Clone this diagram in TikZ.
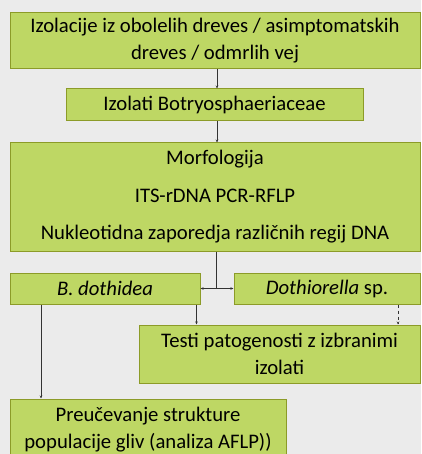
\documentclass[tikz,border=0pt]{standalone}
\usepackage{fontspec}
\setmainfont{Carlito}
\definecolor{boxfill}{RGB}{190,215,100}
\definecolor{boxline}{RGB}{140,155,40}
\definecolor{bg}{RGB}{235,235,235}
\tikzset{
  box/.style={draw=boxline, fill=boxfill, line width=1pt, align=center, inner sep=0pt,
    font=\fontsize{20.7}{27}\selectfont},
  arr/.style={-{Stealth[length=3pt,width=2.5pt]}, line width=0.6pt, draw=black!80},
}
\usetikzlibrary{arrows.meta}
\begin{document}
\begin{tikzpicture}[x=1pt,y=-1pt]
      \fill[bg] (0,0) rectangle (421,454);
      \useasboundingbox (0,0) rectangle (421,454);
      \node[box, minimum width=410pt, minimum height=56pt] (iso) at (215,41) {Izolacije iz obolelih dreves / asimptomatskih\\dreves / odmrlih vej};
      \node[box, minimum width=297pt, minimum height=32pt] (bot) at (214.5,105) {Izolati Botryosphaeriaceae};
      \node[box, minimum width=410pt, minimum height=108pt] (mor) at (215,197) {Morfologija\\[10.5pt]ITS-rDNA PCR-RFLP\\[10.5pt]Nukleotidna zaporedja različnih regij DNA};
      \node[box, minimum width=190pt, minimum height=31pt] (bd) at (105,288.5) {\itshape B. dothidea};
      \node[box, minimum width=186pt, minimum height=31pt] (do) at (327,288.5) {\textit{Dothiorella} sp.};
      \node[box, minimum width=281pt, minimum height=58pt] (test) at (279.5,354) {Testi patogenosti z izbranimi\\izolati};
      \node[box, minimum width=276pt, minimum height=62pt] (pre) at (148,430) {Preučevanje strukture\\populacije gliv (analiza AFLP))};
      \coordinate (split) at (216,288.5);
      \draw[arr] (iso.south -| 217,0) -- (bot.north -| 217,0);
      \draw[arr] (bot.south -| 217,0) -- (mor.north -| 217,0);
      \draw[line width=0.6pt, draw=black!80] (mor.south -| split) -- (split);
      \draw[arr] (split) -- (bd.east); \draw[arr] (split) -- (do.west);
      \draw[arr] ([xshift=-4pt]bd.south east) -- ([xshift=-4pt]bd.south east |- test.north);
      \draw[arr, dashed] (do.south -| 398,0) -- (test.north -| 398,0);
      \draw[arr] (bd.south -| 41,0) -- (pre.north -| 41,0);
    \end{tikzpicture}
\end{document}
